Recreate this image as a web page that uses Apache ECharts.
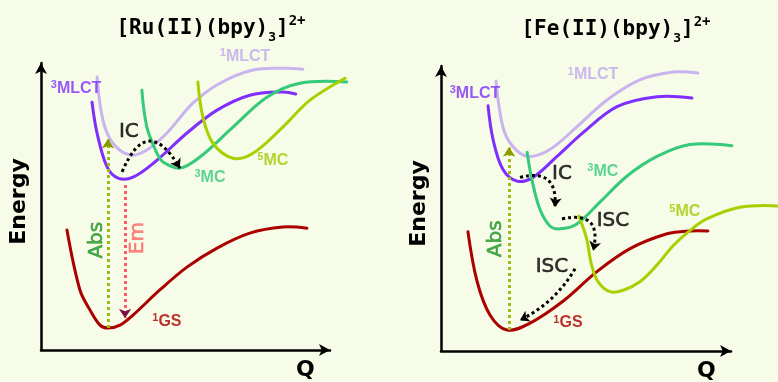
<!DOCTYPE html>
<html>
<head>
<meta charset="utf-8">
<script src="https://cdn.jsdelivr.net/npm/echarts@6/dist/echarts.min.js"></script>
<style>
  html, body { margin: 0; padding: 0; background: #f6fce7; }
  #chart { width: 778px; height: 382px; }
</style>
</head>
<body>
<div id="chart"></div>
<script>
// ---- Potential energy curves, [x = Q, y = Energy] (arbitrary units) ----

// [Ru(II)(bpy)3]2+
const ruGS    = [[0.88,4.10],[1.32,2.05],[1.66,1.37],[2.00,0.85],[2.27,0.75],[2.68,0.85],[3.12,1.19],[4.03,2.05],[4.95,2.83],[5.97,3.48],[7.08,3.99],[8.20,4.20],[9.02,4.16]];
const ruMLCT1 = [[1.90,9.32],[2.10,7.85],[2.44,7.06],[3.02,6.66],[3.59,6.83],[4.27,7.41],[5.15,8.43],[6.07,9.11],[7.19,9.56],[8.20,9.62],[8.88,9.59]];
const ruMLCT3 = [[1.73,8.46],[1.90,7.41],[2.24,6.25],[2.61,5.87],[3.12,5.90],[3.93,6.48],[4.95,7.41],[5.97,8.19],[7.08,8.70],[8.20,8.81],[8.64,8.74]];
const ruMC3   = [[3.42,8.87],[3.59,7.61],[3.93,6.72],[4.14,6.42],[4.71,6.21],[5.39,6.59],[6.51,7.61],[7.66,8.63],[8.78,9.11],[10.37,9.15]];
const ruMC5   = [[5.32,9.15],[5.49,7.95],[5.83,7.06],[6.51,6.55],[7.19,6.72],[8.20,7.61],[9.12,8.53],[10.31,9.28]];

// Ru transitions: absorption, emission, internal conversion
const ruAbs = [[2.27,0.75],[2.27,7.20]];
const ruEm  = [[2.85,5.63],[2.85,1.09]];
const ruIC  = [[2.75,6.08],[4.71,6.21]];

// [Fe(II)(bpy)3]2+
const feGS    = [[0.91,4.10],[1.22,2.39],[1.66,1.23],[2.23,0.72],[3.01,0.96],[4.12,1.71],[5.27,2.73],[6.39,3.52],[7.64,4.03],[8.41,4.13],[9.02,4.13]];
const feMLCT1 = [[1.86,9.28],[2.09,7.71],[2.43,7.03],[2.94,6.69],[3.68,6.93],[4.59,7.71],[5.61,8.63],[6.72,9.32],[7.84,9.59],[8.68,9.56]];
const feMLCT3 = [[1.59,8.43],[1.76,7.27],[2.09,6.25],[2.57,5.84],[3.11,5.97],[3.92,6.69],[4.80,7.51],[5.95,8.40],[7.30,8.74],[8.48,8.70]];
const feMC3   = [[2.91,6.83],[3.07,5.90],[3.34,4.88],[3.68,4.30],[4.02,4.20],[4.59,4.37],[5.37,5.12],[6.28,6.01],[7.30,6.69],[8.41,7.10],[9.83,7.06]];
const feMC5   = [[4.66,4.64],[4.92,3.86],[5.09,2.95],[5.31,2.38],[5.71,2.04],[6.16,2.09],[6.72,2.38],[7.29,2.95],[7.85,3.63],[8.41,4.14],[8.98,4.54],[10.10,4.94],[11.39,4.99]];

// Fe transitions
const feAbs  = [[2.30,0.72],[2.30,7.00]];
const feIC   = [[2.67,5.97],[3.85,4.95]];
const feISC1 = [[4.09,4.54],[5.14,3.45]];
const feISC2 = [[4.53,2.83],[2.67,1.06]];

// Titles and state labels
const titles = ['[Ru(II)(bpy)|3|]|2+', '[Fe(II)(bpy)|3|]|2+'];
const ruStateText = [['3','MLCT'],['1','MLCT'],['3','MC'],['5','MC'],['1','GS']];
const ruStateAt   = [[1.19,8.94],[6.92,10.03],[5.73,5.90],[7.86,6.48],[4.27,0.96]];
const feStateText = [['3','MLCT'],['1','MLCT'],['3','MC'],['5','MC'],['1','GS']];
const feStateAt   = [[1.15,8.84],[5.14,9.49],[5.47,6.18],[8.24,4.78],[4.29,0.96]];
const ruProcText = ['IC','Abs','Em'];
const ruProcAt   = [[2.98,7.44],[1.90,3.75],[3.29,3.82]];
const feProcText = ['IC','ISC','ISC','Abs'];
const feProcAt   = [[4.09,6.08],[5.81,4.47],[3.75,2.90],[1.86,3.86]];

// ---- styling ----
const C = {
  gs: '#aa0000', mlct3: '#7f2efc', mlct1: '#c9b4ef', mc3: '#36c97a', mc5: '#a8d000',
  mlct1Text: '#c0a6ee', mc5Text: '#a2c800',
  absDot: '#9cbc12', absHead: '#8c9800', absText: '#1f9424',
  emDot: '#ff5c6a', emHead: '#7a1248', emText: '#ff6464', proc: '#000000'
};
const stateColors = [C.mlct3, C.mlct1Text, C.mc3, C.mc5Text, C.gs];

// Smooth curve drawn as one polyline through the axis scales (not clipped to the grid)
function curve(data, color, gi) {
  return { type: 'custom', xAxisIndex: gi, yAxisIndex: gi, data: data, silent: true, z: 2, clip: false,
    renderItem: (params, api) => {
      if (params.dataIndex !== 0) return null;
      return { type: 'polyline',
        shape: { points: data.map(p => api.coord(p)), smooth: 0.35 },
        style: { stroke: color, lineWidth: 3, fill: null, lineJoin: 'round', lineCap: 'round' } };
    } };
}
function dotted(coords, color, gi, curveness, headColor) {
  const out = [{ type: 'lines', coordinateSystem: 'cartesian2d', xAxisIndex: gi, yAxisIndex: gi,
    data: [{ coords: coords }], symbol: ['none', 'arrow'], symbolSize: 9, silent: true,
    lineStyle: { color: color, width: 3, type: [3, 3], curveness: curveness, opacity: 1 }, z: 5 }];
  if (headColor) {
    out.push({ type: 'lines', coordinateSystem: 'cartesian2d', xAxisIndex: gi, yAxisIndex: gi,
      data: [{ coords: coords }], symbol: ['none', 'arrow'], symbolSize: 9, silent: true,
      lineStyle: { color: headColor, width: 0, curveness: curveness, opacity: 1 }, z: 6 });
  }
  return out;
}
function stateLabels(texts, at, gi) {
  return { type: 'scatter', xAxisIndex: gi, yAxisIndex: gi, symbolSize: 0, silent: true, z: 8, clip: false,
    data: texts.map((t, i) => ({ value: at[i], name: '{sup|' + t[0] + '}{st|' + t[1] + '}',
      label: { color: stateColors[i] } })),
    label: { show: true, position: 'inside', formatter: p => p.name,
      fontFamily: 'Liberation Sans', fontWeight: 'bold',
      rich: { sup: { fontSize: 11, fontWeight: 'bold', fontFamily: 'Liberation Sans', verticalAlign: 'top', lineHeight: 18 },
              st:  { fontSize: 16, fontWeight: 'bold', fontFamily: 'Liberation Sans', lineHeight: 18 } } } };
}
function procLabels(texts, at, gi) {
  return { type: 'scatter', xAxisIndex: gi, yAxisIndex: gi, symbolSize: 0, silent: true, z: 8, clip: false,
    data: texts.map((t, i) => {
      let color = C.proc, rotate = 0;
      if (t === 'Abs') { color = C.absText; rotate = 90; }
      if (t === 'Em')  { color = C.emText; rotate = 90; }
      return { value: at[i], name: t,
        label: { color: color, rotate: rotate, textBorderColor: color, textBorderWidth: 0.6 } };
    }),
    label: { show: true, position: 'inside', formatter: p => p.name,
      fontFamily: 'DejaVu Sans', fontSize: 20 } };
}
function titleText(s) {
  const p = s.split('|');
  return '{a|' + p[0] + '}{sub|' + p[1] + '}{a|' + p[2] + '}{sup|' + p[3] + '}';
}
const titleRich = {
  a:   { fontFamily: 'DejaVu Sans Mono', fontWeight: 'bold', fontSize: 21, color: '#000', lineHeight: 30 },
  sub: { fontFamily: 'DejaVu Sans Mono', fontWeight: 'bold', fontSize: 13, color: '#000', verticalAlign: 'bottom', lineHeight: 15 },
  sup: { fontFamily: 'DejaVu Sans Mono', fontWeight: 'bold', fontSize: 14, color: '#000', verticalAlign: 'top', lineHeight: 15 }
};

function xAxisOf(gi) {
  return { type: 'value', gridIndex: gi, min: 0, max: 9.8,
    axisLine: { show: true, symbol: ['none', 'arrow'], symbolSize: [9, 11], lineStyle: { color: '#000', width: 2.5 } },
    axisTick: { show: false }, axisLabel: { show: false }, splitLine: { show: false },
    name: 'Q', nameLocation: 'end', nameGap: -34,
    nameTextStyle: { fontFamily: 'DejaVu Sans', fontWeight: 'bold', fontSize: 22, color: '#000',
      verticalAlign: 'top', padding: [9, 0, 0, 0] } };
}
function yAxisOf(gi) {
  return { type: 'value', gridIndex: gi, min: 0, max: 9.8,
    axisLine: { show: true, symbol: ['none', 'arrow'], symbolSize: [9, 11], lineStyle: { color: '#000', width: 2.5 } },
    axisTick: { show: false }, axisLabel: { show: false }, splitLine: { show: false },
    name: 'Energy', nameLocation: 'middle', nameGap: 11,
    nameTextStyle: { fontFamily: 'DejaVu Sans', fontWeight: 'bold', fontSize: 22, color: '#000',
      padding: [0, 0, 0, 10] } };
}

const chart = echarts.init(document.getElementById('chart'));
chart.setOption({
  backgroundColor: '#f6fce7',
  animation: false,
  title: [
    { text: titleText(titles[0]), left: 206, top: 9, textAlign: 'center', textStyle: { rich: titleRich } },
    { text: titleText(titles[1]), left: 611, top: 10, textAlign: 'center', textStyle: { rich: titleRich } }
  ],
  grid: [
    { left: 41, top: 63, width: 289, height: 287 },
    { left: 441, top: 66, width: 290, height: 287 }
  ],
  xAxis: [xAxisOf(0), xAxisOf(1)],
  yAxis: [yAxisOf(0), yAxisOf(1)],
  series: [
    curve(ruGS, C.gs, 0), curve(ruMLCT1, C.mlct1, 0), curve(ruMLCT3, C.mlct3, 0),
    curve(ruMC3, C.mc3, 0), curve(ruMC5, C.mc5, 0),
    ...dotted(ruAbs, C.absDot, 0, 0, C.absHead),
    ...dotted(ruEm, C.emDot, 0, 0, C.emHead),
    ...dotted(ruIC, C.proc, 0, 1.0),
    stateLabels(ruStateText, ruStateAt, 0), procLabels(ruProcText, ruProcAt, 0),

    curve(feGS, C.gs, 1), curve(feMLCT1, C.mlct1, 1), curve(feMLCT3, C.mlct3, 1),
    curve(feMC3, C.mc3, 1), curve(feMC5, C.mc5, 1),
    ...dotted(feAbs, C.absDot, 1, 0, C.absHead),
    ...dotted(feIC, C.proc, 1, 0.7),
    ...dotted(feISC1, C.proc, 1, 0.8),
    ...dotted(feISC2, C.proc, 1, 0.15),
    stateLabels(feStateText, feStateAt, 1), procLabels(feProcText, feProcAt, 1)
  ]
});
</script>
</body>
</html>
